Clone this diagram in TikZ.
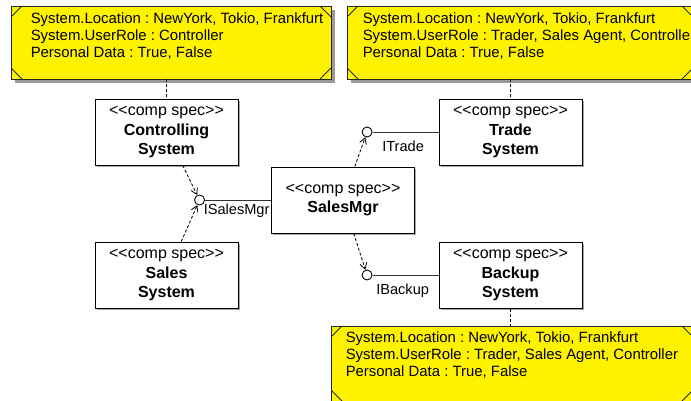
\documentclass[tikz,border=0pt]{standalone}
\usepackage{fontspec}
\setmainfont{Liberation Sans}
\usetikzlibrary{positioning,shadows,arrows.meta}
\definecolor{noteyellow}{RGB}{255,242,0}
\frenchspacing

\begin{document}
\begin{tikzpicture}[x=1pt,y=-1pt,
  comp/.style={draw,line width=1pt,fill=white,minimum width=143pt,minimum height=66pt,
    inner sep=0pt,align=center,font=\fontsize{16}{19.5}\selectfont,
    drop shadow={shadow xshift=1.5pt,shadow yshift=-1.5pt,fill=black!35,opacity=1}},
  note/.style={draw=black!85,line width=0.9pt,fill=noteyellow,inner sep=0pt,minimum height=73pt,
    drop shadow={shadow xshift=4pt,shadow yshift=-4pt,fill=black!40,opacity=1},
    path picture={
      \foreach \c/\dx/\dy in {north west/1/-1,north east/-1/-1,south west/1/1,south east/-1/1}
        \draw[black!85,line width=0.8pt] ([yshift=\dy*11pt]path picture bounding box.\c)
          -- ([xshift=\dx*11pt]path picture bounding box.\c);}},
  notetext/.style={anchor=north west,inner sep=0pt,align=left,font=\fontsize{14.9}{17}\selectfont},
  ball/.style={circle,draw,line width=0.9pt,fill=white,minimum size=10pt,inner sep=0pt},
  iflabel/.style={anchor=north west,inner sep=0pt,font=\fontsize{14.6}{17}\selectfont},
  stem/.style={line width=0.9pt,black!80},
  dep/.style={line width=0.8pt,dash pattern=on 3pt off 2pt,-{Straight Barb[length=6pt,width=7pt]}},
  tie/.style={line width=0.8pt,dash pattern=on 3pt off 2pt}]
 \useasboundingbox (0,0) rectangle (691,400);

 \node[note,minimum width=320pt] (n1) at (171,42.5) {};
 \node[note,minimum width=346pt] (n2) at (520,42.5) {};
 \node[note,minimum width=362pt,minimum height=75pt] (n3) at (512,363.5) {};
 \node[notetext] (t1) at ([shift={(20,7)}]n1.north west)
   {System.Location : NewYork, Tokio, Frankfurt\\System.UserRole : Controller\\Personal Data : True, False};
 \node[notetext] (t2) at ([shift={(16,7)}]n2.north west)
   {System.Location : NewYork, Tokio, Frankfurt\\System.UserRole : Trader, Sales Agent, Controller\\Personal Data : True, False};
 \node[notetext] (t3) at ([shift={(15,6)}]n3.north west)
   {System.Location : NewYork, Tokio, Frankfurt\\System.UserRole : Trader, Sales Agent, Controller\\Personal Data : True, False};

 \node[comp] (ctrl)   at (166.5,132) {<{}<comp spec>{}>\\\textbf{Controlling}\\\textbf{System}};
 \node[comp] (trade)  at (510.5,132) {<{}<comp spec>{}>\\\textbf{Trade}\\\textbf{System}};
 \node[comp] (smgr)   at (343,200)   {<{}<comp spec>{}>\\\textbf{SalesMgr}};
 \node[comp] (sales)  at (166.5,275) {<{}<comp spec>{}>\\\textbf{Sales}\\\textbf{System}};
 \node[comp] (backup) at (510.5,275) {<{}<comp spec>{}>\\\textbf{Backup}\\\textbf{System}};

 \node[ball,left=66pt of smgr]   (ismgr)   {};
 \node[ball,left=66pt of trade]  (itrade)  {};
 \node[ball,left=66pt of backup] (ibackup) {};
 \node[iflabel] (lsmgr)   at ([shift={(4,4)}]ismgr.center)    {ISalesMgr};
 \node[iflabel] (ltrade)  at ([shift={(15,9)}]itrade.center)  {ITrade};
 \node[iflabel] (lbackup) at ([shift={(9,9)}]ibackup.center)  {IBackup};

 \draw[stem] (ismgr) -- (smgr);
 \draw[stem] (itrade) -- (trade);
 \draw[stem] (ibackup) -- (backup);

 \draw[dep] (ctrl) -- (ismgr);
 \draw[dep] (sales) -- (ismgr);
 \draw[dep] (smgr) -- (itrade);
 \draw[dep] (smgr) -- (ibackup);

 \draw[tie] (ctrl.north |- n1.south) -- (ctrl.north);
 \draw[tie] (trade.north |- n2.south) -- (trade.north);
 \draw[tie] (backup.south) -- (backup.south |- n3.north);
\end{tikzpicture}
\end{document}
